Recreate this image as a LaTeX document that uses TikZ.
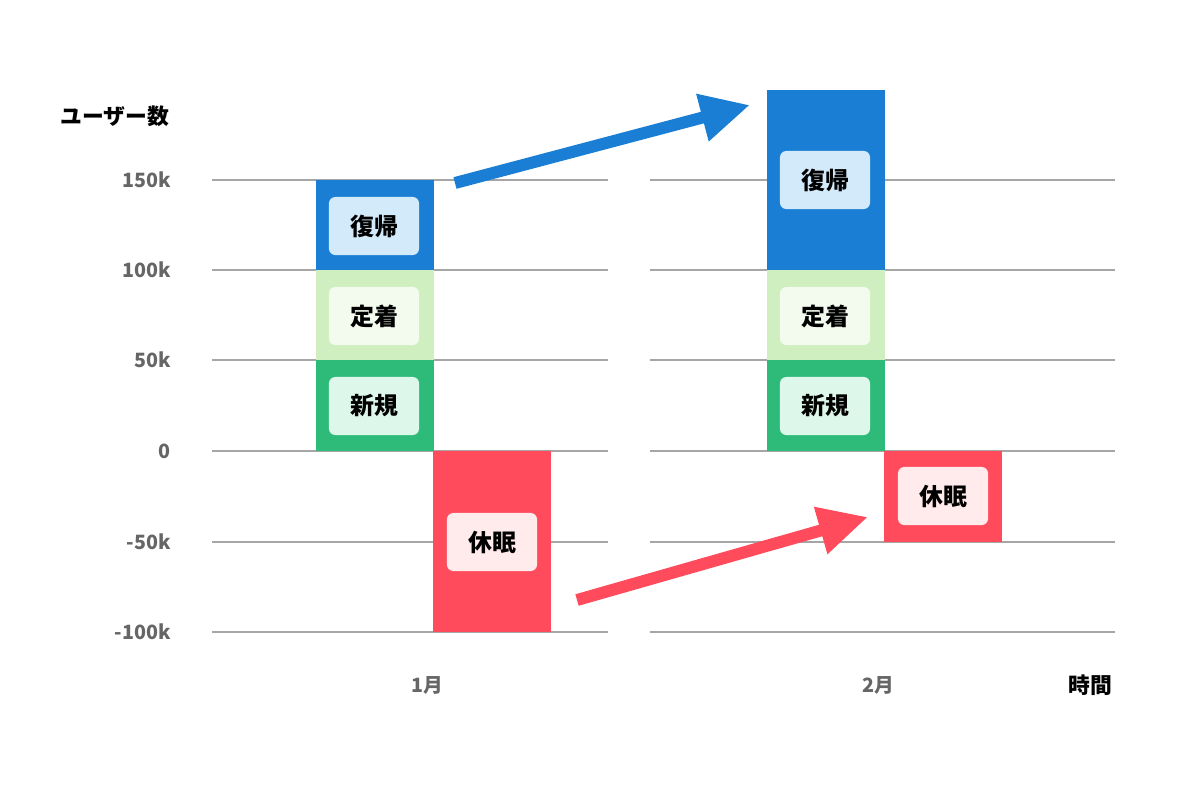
\documentclass[tikz,border=0pt]{standalone}
\usepackage{fontspec}
\setmainfont{Noto Sans CJK JP}
\usetikzlibrary{arrows.meta,positioning}
\definecolor{retblue}{HTML}{1A7FD4}
\definecolor{retblueL}{HTML}{D3EAFB}
\definecolor{stayG}{HTML}{CFEFC0}
\definecolor{stayGL}{HTML}{F3FBEE}
\definecolor{newG}{HTML}{2EBB7A}
\definecolor{newGL}{HTML}{DDF8EA}
\definecolor{sleepR}{HTML}{FF4B5C}
\definecolor{sleepRL}{HTML}{FFEAEC}
\definecolor{axisgray}{HTML}{666666}
\begin{document}
\begin{tikzpicture} [x=0.01cm, y=-0.01cm,
    tag/.style={rounded corners=1.8pt, minimum width=0.9cm, minimum height=0.58cm,
      inner sep=0, font=\bfseries\fontsize{6.8pt}{6.8pt}\selectfont},
    ylab/.style={anchor=east, text=axisgray, font=\bfseries\fontsize{5.6pt}{5.6pt}\selectfont},
    xlab/.style={text=axisgray, font=\bfseries\fontsize{5.6pt}{5.6pt}\selectfont},
    grid/.style={draw=gray!70, line width=0.5pt},
    flow/.style={line width=3.4pt, -{Triangle[width=13pt, length=14pt]}}
    ]
    \useasboundingbox (0,0) rectangle (1200,800);
    % grid lines and values
    \foreach \y/\val in {180/150k,270/100k,360/50k,451/0,542/-50k,632/-100k} {
      \node[ylab] (v\val) at (183,\y) {\val};
      \draw[grid] (212,\y) -- (608,\y);
      \draw[grid] (650,\y) -- (1115,\y);
    }
    % bars: x / top / bottom / colour / name
    \foreach \x/\t/\b/\c/\name in {316/180/270/retblue/janRet,316/270/360/stayG/janStay,316/360/451/newG/janNew,
        433/451/632/sleepR/janSleep,767/90/270/retblue/febRet,767/270/360/stayG/febStay,
        767/360/451/newG/febNew,884/451/542/sleepR/febSleep}
      \fill[\c] (\x,\t) rectangle +(118,\b-\t) coordinate (\name);
    % labels
    \node[tag, fill=retblueL] (tJanRet) at (374,226) {復帰};
    \node[tag, fill=stayGL] (tJanStay) at (374,316) {定着};
    \node[tag, fill=newGL] (tJanNew) at (374,406) {新規};
    \node[tag, fill=sleepRL] (tJanSleep) at (492,542) {休眠};
    \node[tag, fill=retblueL] (tFebRet) at (825,180) {復帰};
    \node[tag, fill=stayGL] (tFebStay) at (825,316) {定着};
    \node[tag, fill=newGL] (tFebNew) at (825,406) {新規};
    \node[tag, fill=sleepRL] (tFebSleep) at (943,496) {休眠};
    % axes titles
    \node[anchor=west, font=\bfseries\fontsize{6.2pt}{6.2pt}\selectfont] (yTitle) at (48,116) {ユーザー数};
    \node[font=\bfseries\fontsize{6.2pt}{6.2pt}\selectfont] (xTitle) at (1090,685) {時間};
    \node[xlab] (jan) at (427,685) {1月};
    \node[xlab] (feb) at (878,685) {2月};
    % flows
    \coordinate (bs) at (455,183); \coordinate (be) at (750,105);
    \coordinate (rs) at (577,600); \coordinate (re) at (868,517);
    \draw[flow, retblue] (bs) -- (be);
    \draw[flow, sleepR] (rs) -- (re);
  \end{tikzpicture}
\end{document}
